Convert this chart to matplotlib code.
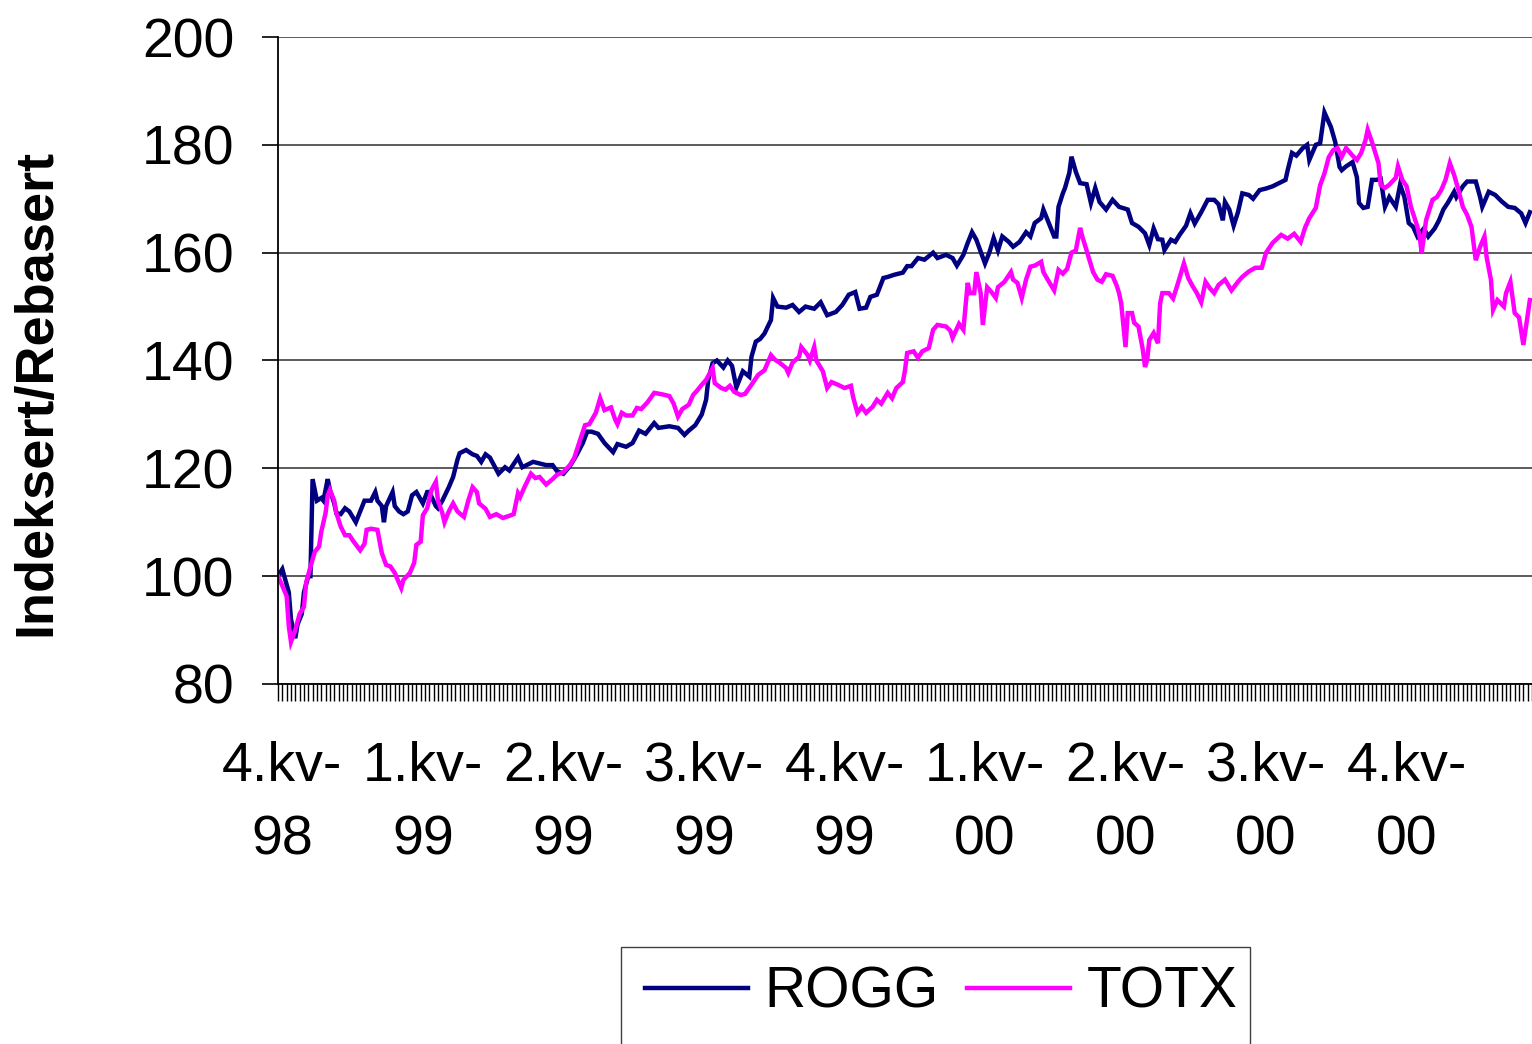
import numpy as np
import matplotlib.pyplot as plt
from matplotlib.patches import Rectangle
from matplotlib.ticker import MultipleLocator

plt.rcParams["font.family"] = ["Liberation Sans", "DejaVu Sans"]

# trading-day index and index values
rogg_day = [0, 2, 5, 6, 8, 9, 11, 12, 14, 15, 16, 18, 20, 21, 23, 24, 26, 27, 29, 31,
            33, 36, 38, 40, 43, 45, 46, 48, 49, 50, 53, 54, 56, 58, 60, 62, 64, 67, 69, 70,
            73, 74, 76, 79, 81, 83, 84, 87, 90, 92, 94, 96, 98, 102, 105, 107, 111, 113, 118, 120,
            124, 127, 129, 132, 135, 138, 141, 143, 145, 148, 151, 155, 157, 161, 164, 167, 170, 174, 176, 181,
            185, 188, 190, 193, 196, 198, 199, 201, 203, 206, 208, 210, 212, 215, 218, 219, 221, 223, 225, 228,
            229, 231, 235, 238, 241, 244, 248, 251, 252, 254, 258, 261, 264, 267, 269, 272, 274, 277, 280, 282,
            285, 289, 291, 293, 296, 299, 303, 305, 309, 312, 314, 317, 319, 321, 323, 325, 327, 329, 331, 333,
            335, 338, 340, 343, 346, 348, 350, 353, 354, 356, 359, 360, 361, 363, 364, 366, 367, 369, 371, 374,
            376, 378, 380, 383, 386, 389, 393, 395, 398, 401, 403, 405, 407, 409, 410, 413, 415, 417, 420, 422,
            424, 427, 430, 433, 435, 437, 438, 440, 442, 444, 446, 449, 451, 454, 457, 460, 463, 466, 467, 469,
            471, 474, 476, 477, 480, 482, 484, 487, 489, 491, 492, 494, 497, 499, 500, 502, 504, 506, 508, 510,
            512, 514, 517, 519, 521, 523, 525, 527, 530, 532, 535, 537, 539, 541, 544, 545, 548, 550, 554, 556,
            557, 560, 563, 566, 569, 572, 575, 577, 579]
rogg_val = [100.0, 101.3, 97.0, 92.0, 88.5, 91.0, 93.0, 97.0, 100.0, 100.0, 118.0, 114.0, 114.5, 114.0, 118.0, 116.0, 113.5, 111.7, 111.5, 112.6,
            112.0, 110.0, 112.0, 114.0, 114.0, 115.6, 114.0, 113.0, 110.0, 113.0, 115.6, 113.0, 112.0, 111.5, 112.0, 115.0, 115.6, 113.5, 115.6, 115.6,
            113.0, 112.6, 114.0, 116.5, 118.4, 121.6, 122.8, 123.4, 122.6, 122.3, 121.2, 122.6, 122.0, 119.0, 120.2, 119.6, 122.0, 120.2, 121.2, 121.0,
            120.6, 120.6, 119.5, 119.0, 120.4, 122.4, 124.7, 126.8, 126.8, 126.4, 124.7, 123.0, 124.5, 124.0, 124.7, 127.0, 126.4, 128.4, 127.5, 127.8,
            127.5, 126.2, 127.0, 128.0, 130.0, 132.7, 136.4, 139.5, 140.0, 138.7, 140.0, 139.0, 135.0, 138.0, 137.0, 140.7, 143.5, 144.0, 145.0, 147.5,
            151.6, 150.0, 149.8, 150.3, 149.0, 150.0, 149.6, 150.8, 150.0, 148.4, 149.0, 150.3, 152.2, 152.7, 149.6, 149.8, 151.8, 152.2, 155.3, 155.5,
            155.9, 156.3, 157.5, 157.5, 159.0, 158.7, 160.0, 159.0, 159.6, 159.0, 157.6, 159.6, 161.8, 163.8, 162.4, 160.2, 158.0, 160.0, 162.7, 160.4,
            163.0, 162.0, 161.1, 162.0, 163.8, 163.0, 165.5, 166.4, 168.0, 166.0, 163.0, 163.0, 168.5, 171.0, 172.0, 174.8, 177.8, 175.0, 172.9, 172.7,
            169.2, 172.0, 169.4, 168.0, 169.8, 168.5, 168.0, 165.5, 164.8, 163.6, 161.4, 164.5, 162.5, 162.4, 160.5, 162.4, 162.0, 163.3, 165.0, 167.3,
            165.4, 167.5, 169.8, 169.8, 169.0, 166.0, 169.4, 168.0, 165.0, 167.5, 171.0, 170.7, 170.0, 171.6, 171.9, 172.3, 172.9, 173.5, 175.3, 178.5,
            178.0, 179.4, 180.0, 177.2, 180.0, 180.3, 186.0, 183.3, 180.5, 175.9, 175.3, 176.0, 176.8, 174.0, 169.2, 168.3, 168.5, 173.5, 173.5, 173.7,
            168.5, 170.3, 168.5, 172.6, 170.3, 165.5, 164.8, 163.0, 164.5, 163.0, 164.5, 166.0, 168.0, 169.2, 171.3, 170.3, 172.3, 173.2, 173.2, 170.3,
            168.5, 171.3, 170.7, 169.5, 168.5, 168.3, 167.3, 165.5, 167.5]

totx_day = [0, 2, 4, 5, 6, 8, 10, 12, 13, 15, 17, 19, 20, 22, 23, 24, 26, 27, 29, 31,
            33, 35, 38, 40, 41, 43, 46, 48, 50, 52, 54, 57, 58, 61, 63, 64, 66, 67, 69, 71,
            73, 74, 76, 77, 79, 81, 83, 86, 88, 90, 92, 93, 96, 98, 101, 104, 107, 109, 111, 112,
            114, 117, 119, 121, 124, 127, 129, 132, 135, 137, 140, 142, 144, 147, 149, 151, 154, 156, 157, 159,
            161, 164, 166, 168, 171, 174, 178, 181, 183, 185, 187, 190, 192, 194, 196, 198, 201, 202, 205, 207,
            209, 211, 214, 216, 219, 222, 225, 228, 230, 232, 235, 236, 238, 241, 242, 245, 246, 248, 249, 252,
            254, 256, 259, 262, 265, 266, 268, 270, 272, 275, 277, 279, 282, 284, 286, 289, 290, 291, 294, 296,
            298, 301, 303, 305, 309, 311, 312, 315, 317, 319, 320, 322, 323, 325, 326, 328, 330, 332, 333, 336,
            339, 340, 342, 344, 346, 348, 350, 353, 354, 356, 359, 361, 363, 365, 367, 369, 371, 372, 374, 377,
            379, 381, 383, 386, 388, 389, 390, 392, 393, 395, 396, 398, 400, 401, 402, 403, 405, 407, 408, 409,
            412, 414, 416, 419, 421, 423, 425, 427, 429, 431, 433, 435, 438, 441, 444, 446, 449, 452, 455, 457,
            460, 464, 467, 470, 473, 475, 477, 480, 482, 484, 486, 488, 490, 492, 494, 497, 499, 501, 503, 504,
            506, 509, 510, 512, 514, 517, 518, 520, 522, 524, 527, 528, 529, 531, 534, 536, 538, 540, 542, 544,
            546, 548, 550, 552, 554, 556, 558, 559, 561, 562, 564, 567, 568, 570, 572, 574, 576, 577, 579]
totx_val = [100.0, 98.2, 96.3, 90.7, 87.8, 90.0, 93.0, 94.3, 98.8, 101.7, 104.5, 105.5, 108.2, 111.7, 115.0, 116.0, 114.0, 111.7, 109.2, 107.6,
            107.6, 106.4, 104.8, 106.0, 108.6, 108.8, 108.6, 104.3, 102.1, 101.8, 100.6, 97.8, 99.3, 100.6, 102.5, 105.8, 106.4, 111.3, 112.6, 116.0,
            117.5, 114.0, 111.7, 110.0, 112.0, 113.5, 112.0, 111.0, 114.0, 116.5, 115.6, 113.5, 112.5, 111.0, 111.5, 110.8, 111.2, 111.5, 115.4, 114.7,
            116.5, 119.0, 118.2, 118.4, 117.0, 118.0, 118.8, 119.3, 120.6, 121.9, 125.6, 128.0, 128.2, 130.3, 133.0, 130.8, 131.3, 129.0, 128.2, 130.3,
            129.8, 129.8, 131.2, 131.0, 132.3, 134.0, 133.7, 133.4, 132.0, 129.6, 131.0, 131.8, 133.6, 134.5, 135.5, 136.4, 138.6, 135.8, 134.9, 134.6,
            135.3, 134.2, 133.6, 133.8, 135.5, 137.3, 138.2, 141.0, 140.1, 139.6, 138.6, 137.7, 139.6, 140.7, 142.5, 141.0, 140.0, 142.5, 140.0, 138.0,
            134.9, 136.0, 135.5, 134.9, 135.3, 133.2, 130.3, 131.4, 130.3, 131.4, 132.7, 132.0, 134.0, 133.0, 134.9, 136.0, 138.2, 141.4, 141.7, 140.5,
            141.7, 142.3, 145.7, 146.6, 146.3, 145.5, 144.2, 146.8, 145.7, 154.4, 152.5, 152.5, 156.4, 152.5, 146.6, 153.6, 152.7, 151.6, 153.6, 154.6,
            156.4, 155.0, 154.4, 151.6, 155.0, 157.4, 157.6, 158.3, 156.4, 155.0, 153.0, 156.8, 156.1, 157.0, 160.0, 160.4, 164.6, 163.0, 160.4, 156.4,
            155.0, 154.6, 156.0, 155.7, 153.8, 152.5, 150.6, 142.5, 148.8, 148.8, 147.0, 146.3, 142.0, 138.8, 140.1, 143.8, 145.1, 143.2, 150.6, 152.5,
            152.5, 151.5, 154.0, 158.0, 155.3, 153.8, 152.5, 150.8, 154.6, 153.4, 152.5, 154.0, 155.0, 153.0, 154.6, 155.5, 156.5, 157.2, 157.2, 160.0,
            161.8, 163.3, 162.6, 163.5, 162.0, 164.6, 166.4, 168.3, 172.5, 174.7, 177.7, 179.0, 179.4, 177.8, 179.4, 178.0, 177.2, 178.5, 180.9, 182.8,
            180.5, 176.6, 172.6, 172.0, 172.6, 173.9, 176.0, 173.5, 172.3, 168.5, 164.8, 163.0, 160.0, 166.0, 169.8, 170.3, 171.6, 173.5, 176.6, 174.4,
            171.6, 168.5, 167.0, 164.8, 158.6, 161.1, 163.0, 159.2, 155.0, 149.4, 151.2, 150.0, 152.5, 154.6, 148.8, 148.0, 142.9, 145.7, 151.2]

quarter_day = [2, 67, 132, 197, 262, 327, 392, 457, 522]
quarter_labels = ["4.kv-\n98", "1.kv-\n99", "2.kv-\n99", "3.kv-\n99", "4.kv-\n99",
                  "1.kv-\n00", "2.kv-\n00", "3.kv-\n00", "4.kv-\n00"]

W, H = 1532, 1044
fig = plt.figure(figsize=(W / 100, H / 100), dpi=100)
ax = fig.add_axes([278 / W, 1 - 684 / H, (W - 278) / W, (684 - 37) / H])

ax.plot(rogg_day, rogg_val, color="#000080", lw=3.2, label="ROGG", solid_joinstyle="miter")
ax.plot(totx_day, totx_val, color="#FF00FF", lw=3.2, label="TOTX", solid_joinstyle="miter")

ax.set_xlim(0, 580)
ax.set_ylim(80, 200)
ax.set_yticks(range(80, 201, 20))
ax.grid(axis="y", color="#404040", lw=1.2)
ax.set_axisbelow(True)

ax.set_xticks(quarter_day)
ax.set_xticklabels(quarter_labels, fontsize=40, linespacing=1.55)
ax.xaxis.set_minor_locator(MultipleLocator(2))
ax.xaxis.remove_overlapping_locs = False
ax.tick_params(axis="x", which="major", length=0, pad=41)
ax.tick_params(axis="x", which="minor", length=12, width=1.0, direction="out", color="black")
ax.tick_params(axis="y", length=11.5, width=1.2, direction="out", labelsize=40, pad=20)

for s in ["top", "right"]:
    ax.spines[s].set_visible(False)
ax.spines["left"].set_linewidth(1.3)
ax.spines["bottom"].set_linewidth(1.3)

fig.text(36 / W, 1 - 392 / H, "Indeksert/Rebasert", rotation=90, ha="center", va="center",
         fontsize=39, fontweight="bold")

ax.legend(loc="center left", bbox_to_anchor=(645 / W, 1 - 993 / H), bbox_transform=fig.transFigure,
          ncol=2, frameon=False, fontsize=41, handlelength=1.8, handletextpad=0.3,
          columnspacing=0.5, borderpad=0, borderaxespad=0)
fig.add_artist(Rectangle((621 / W, -0.05), (1250 - 621) / W, 1 - 947 / H + 0.05,
                         transform=fig.transFigure, fill=False, edgecolor="#404040", lw=1.0))

fig.savefig("out.png", dpi=100)
